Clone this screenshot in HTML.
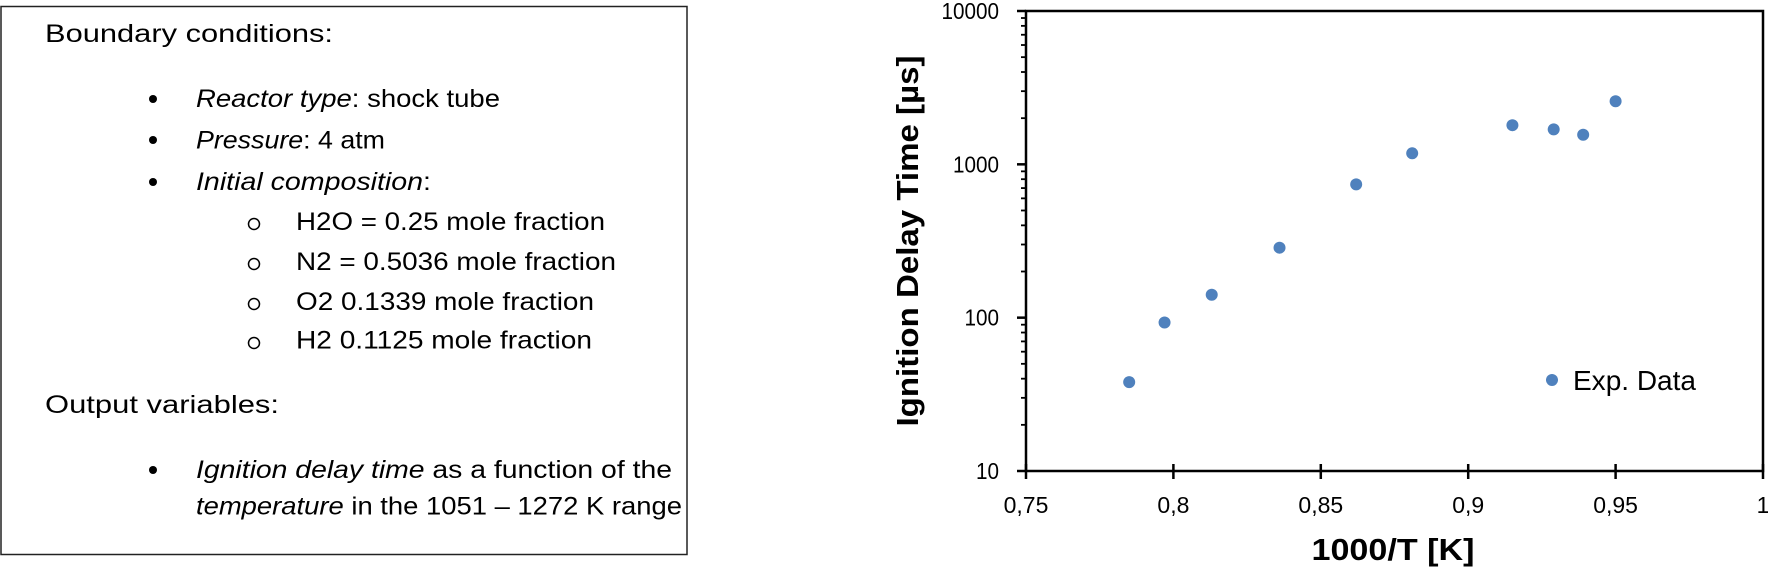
<!DOCTYPE html>
<html><head><meta charset="utf-8"><style>
html,body{margin:0;padding:0;background:#fff;}
svg{display:block;}
text{font-family:"Liberation Sans",sans-serif;fill:#000;}
</style></head><body>
<svg id="root" width="1768" height="568" viewBox="0 0 1768 568">
<g font-size="25">
<rect x="1" y="6.5" width="686" height="548" fill="none" stroke="#222" stroke-width="1.5"/>
<text x="45" y="42" textLength="288" lengthAdjust="spacingAndGlyphs">Boundary conditions:</text>
<circle cx="153" cy="99" r="4" fill="#000"/>
<text x="196" y="107" textLength="304" lengthAdjust="spacingAndGlyphs"><tspan font-style="italic">Reactor type</tspan>: shock tube</text>
<circle cx="153" cy="140" r="4" fill="#000"/>
<text x="196" y="148.5" textLength="189" lengthAdjust="spacingAndGlyphs"><tspan font-style="italic">Pressure</tspan>: 4 atm</text>
<circle cx="153" cy="182" r="4" fill="#000"/>
<text x="196" y="190" textLength="235" lengthAdjust="spacingAndGlyphs"><tspan font-style="italic">Initial composition</tspan>:</text>
<circle cx="254" cy="224" r="5.5" fill="none" stroke="#000" stroke-width="1.5"/>
<text x="296" y="230" textLength="309" lengthAdjust="spacingAndGlyphs">H2O = 0.25 mole fraction</text>
<circle cx="254" cy="264" r="5.5" fill="none" stroke="#000" stroke-width="1.5"/>
<text x="296" y="270" textLength="320" lengthAdjust="spacingAndGlyphs">N2 = 0.5036 mole fraction</text>
<circle cx="254" cy="304" r="5.5" fill="none" stroke="#000" stroke-width="1.5"/>
<text x="296" y="310" textLength="298" lengthAdjust="spacingAndGlyphs">O2 0.1339 mole fraction</text>
<circle cx="254" cy="343" r="5.5" fill="none" stroke="#000" stroke-width="1.5"/>
<text x="296" y="348.5" textLength="296" lengthAdjust="spacingAndGlyphs">H2 0.1125 mole fraction</text>
<text x="45" y="413" textLength="234" lengthAdjust="spacingAndGlyphs">Output variables:</text>
<circle cx="153" cy="470" r="4" fill="#000"/>
<text x="196" y="478" textLength="476" lengthAdjust="spacingAndGlyphs"><tspan font-style="italic">Ignition delay time</tspan> as a function of the</text>
<text x="196" y="514.5" textLength="486" lengthAdjust="spacingAndGlyphs"><tspan font-style="italic">temperature</tspan> in the 1051 – 1272 K range</text>
</g>
<g id="chart"></g>
</svg>
<script>
const xData = [0.785, 0.797, 0.813, 0.836, 0.862, 0.881, 0.915, 0.929, 0.939, 0.950];
const yData = [38, 93, 141, 286, 740, 1180, 1800, 1690, 1560, 2580];
const xTicks = [0.75, 0.8, 0.85, 0.9, 0.95, 1];
const xTickLabels = ["0,75", "0,8", "0,85", "0,9", "0,95", "1"];
const yTicks = [10, 100, 1000, 10000];
const yTickLabels = ["10", "100", "1000", "10000"];

const NS = "http://www.w3.org/2000/svg";
const g = document.getElementById('chart');
const L = 1026, R = 1763, T = 11, B = 471;
const xMin = 0.75, xMax = 1, yMinL = 1, yMaxL = 4;
function sx(v){ return L + (v - xMin) / (xMax - xMin) * (R - L); }
function sy(v){ return B - (Math.log10(v) - yMinL) / (yMaxL - yMinL) * (B - T); }
function mk(tag, attrs){ const e = document.createElementNS(NS, tag); for (const k in attrs) e.setAttribute(k, attrs[k]); g.appendChild(e); return e; }

let e;
e = mk('rect', {x:L, y:T, width:R-L, height:B-T, fill:'none', stroke:'#000', 'stroke-width':2.5});



for (let d = 1; d < 4; d++) {
  for (let m = 2; m <= 9; m++) {
    const v = m * Math.pow(10, d);
    e = mk('line', {x1:L-5, x2:L, y1:sy(v), y2:sy(v), stroke:'#000', 'stroke-width':1.8});
    
    
  }
}
yTicks.forEach((v, i) => {
  e = mk('line', {x1:L-9, x2:L, y1:sy(v), y2:sy(v), stroke:'#000', 'stroke-width':2.5});
  
  
  e = mk('text', {x:999, y:sy(v)+8, 'text-anchor':'end', 'font-size':23, textLength: yTickLabels[i].length*11.5, lengthAdjust:'spacingAndGlyphs'});
  e.textContent = yTickLabels[i];
  
  
});
xTicks.forEach((v, i) => {
  e = mk('line', {x1:sx(v), x2:sx(v), y1:B-7, y2:B+8, stroke:'#000', 'stroke-width':2.5});
  
  
  e = mk('text', {x:sx(v), y:B+42, 'text-anchor':'middle', 'font-size':23});
  e.textContent = xTickLabels[i];
  
  
});
xData.forEach((v, i) => {
  e = mk('ellipse', {cx:sx(v), cy:sy(yData[i]), rx:6, ry:6, fill:'#4f81bd'});
  
  
});
e = mk('ellipse', {cx:1552, cy:380, rx:6, ry:6, fill:'#4f81bd'});


e = mk('text', {x:1573, y:390, 'font-size':28, textLength:123, lengthAdjust:'spacingAndGlyphs'});
e.textContent = 'Exp. Data';


e = mk('text', {x:1393, y:560, 'text-anchor':'middle', 'font-size':31, 'font-weight':'bold', textLength:163, lengthAdjust:'spacingAndGlyphs'});
e.textContent = '1000/T [K]';


e = mk('text', {x:0, y:0, 'text-anchor':'middle', 'font-size':31, 'font-weight':'bold', textLength:371, lengthAdjust:'spacingAndGlyphs', transform:'translate(918,241) rotate(-90)'});
e.textContent = 'Ignition Delay Time [µs]';


</script>
</body></html>
